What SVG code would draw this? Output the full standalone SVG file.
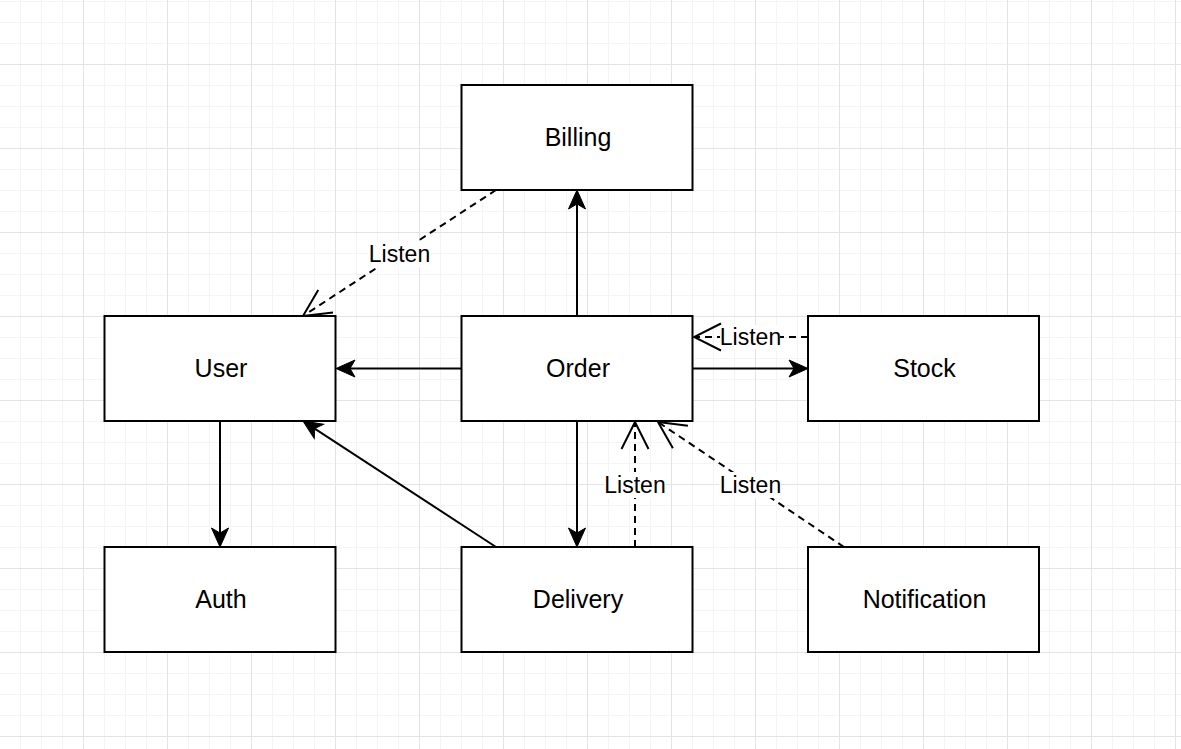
<svg xmlns="http://www.w3.org/2000/svg" width="1181" height="749" viewBox="0 0 1181 749">
  <style>
    .box { fill: #ffffff; stroke: #000000; stroke-width: 2; }
    .ntext { font-family: "Liberation Sans", Arial, sans-serif; font-size: 25px; fill: #000000; text-anchor: middle; }
    .edge { fill: none; stroke: #000000; stroke-width: 2; }
    .dash { stroke-dasharray: 7 5; }
    .ltext { font-family: "Liberation Sans", Arial, sans-serif; font-size: 23px; fill: #000000; text-anchor: middle; }
    .lbg { fill: #ffffff; }
  </style>
  <defs>
    <pattern id="grid" x="-1" y="-20" width="84" height="84" patternUnits="userSpaceOnUse">
      <path d="M21.5 0V84M42.5 0V84M63.5 0V84M0 21.5H84M0 42.5H84M0 63.5H84" stroke="#f4f4f4" stroke-width="1" fill="none"/>
      <path d="M0.5 0V84M0 0.5H84" stroke="#e3e3e3" stroke-width="1" fill="none"/>
    </pattern>
    <marker id="classic" markerUnits="userSpaceOnUse" viewBox="-22 -11 26 22" markerWidth="26" markerHeight="22" refX="-3" refY="0" orient="auto">
      <path d="M0,0 L-19,-8.5 L-14,0 L-19,8.5 Z" fill="#000000" stroke="#000000" stroke-width="1" stroke-linejoin="miter"/>
    </marker>
    <marker id="open" markerUnits="userSpaceOnUse" viewBox="-32 -16 34 32" markerWidth="34" markerHeight="32" refX="0" refY="0" orient="auto">
      <path d="M-27,-13.5 L0,0 L-27,13.5" fill="none" stroke="#000000" stroke-width="2"/>
    </marker>
  </defs>
  <rect x="0" y="0" width="1181" height="749" fill="#ffffff"/>
  <rect x="0" y="0" width="1181" height="749" fill="url(#grid)"/>

  <g id="connectors">
    <!-- Order -> Billing -->
    <path class="edge" d="M577,316 L577,193" marker-end="url(#classic)"/>
    <!-- Order -> User -->
    <path class="edge" d="M461,368.5 L339,368.5" marker-end="url(#classic)"/>
    <!-- Order -> Stock -->
    <path class="edge" d="M693,368.5 L805,368.5" marker-end="url(#classic)"/>
    <!-- Order -> Delivery -->
    <path class="edge" d="M577,421 L577,544" marker-end="url(#classic)"/>
    <!-- User -> Auth -->
    <path class="edge" d="M220,421 L220,544" marker-end="url(#classic)"/>
    <!-- Delivery -> User -->
    <path class="edge" d="M496,547 L305.5,422.6" marker-end="url(#classic)"/>

    <!-- Billing -> User (Listen) -->
    <path class="edge dash" d="M496,190 L303,316" marker-end="url(#open)"/>
    <!-- Stock -> Order (Listen) -->
    <path class="edge dash" d="M808,337 L694,337" marker-end="url(#open)"/>
    <!-- Delivery -> Order (Listen) -->
    <path class="edge dash" d="M635,547 L635,422" marker-end="url(#open)"/>
    <!-- Notification -> Order (Listen) -->
    <path class="edge dash" d="M844,547 L658,422" marker-end="url(#open)"/>

    <g id="labels">
      <rect class="lbg" x="369" y="241" width="61" height="26"/>
      <text class="ltext" x="399.5" y="262">Listen</text>
      <rect class="lbg" x="720" y="325" width="60" height="24"/>
      <text class="ltext" x="750.5" y="345">Listen</text>
      <rect class="lbg" x="604" y="472" width="62" height="26"/>
      <text class="ltext" x="635" y="493">Listen</text>
      <rect class="lbg" x="719" y="472" width="62" height="26"/>
      <text class="ltext" x="750.5" y="493">Listen</text>
    </g>
  </g>

  <g id="billing">
    <rect class="box" x="461.5" y="85" width="231" height="105"/>
    <text class="ntext" x="578" y="146">Billing</text>
  </g>
  <g id="user">
    <rect class="box" x="104.5" y="316" width="231" height="105"/>
    <text class="ntext" x="221" y="377">User</text>
  </g>
  <g id="order">
    <rect class="box" x="461.5" y="316" width="231" height="105"/>
    <text class="ntext" x="578" y="377">Order</text>
  </g>
  <g id="stock">
    <rect class="box" x="808" y="316" width="231" height="105"/>
    <text class="ntext" x="924.5" y="377">Stock</text>
  </g>
  <g id="auth">
    <rect class="box" x="104.5" y="547" width="231" height="105"/>
    <text class="ntext" x="221" y="608">Auth</text>
  </g>
  <g id="delivery">
    <rect class="box" x="461.5" y="547" width="231" height="105"/>
    <text class="ntext" x="578" y="608">Delivery</text>
  </g>
  <g id="notification">
    <rect class="box" x="808" y="547" width="231" height="105"/>
    <text class="ntext" x="924.5" y="608">Notification</text>
  </g>
</svg>
